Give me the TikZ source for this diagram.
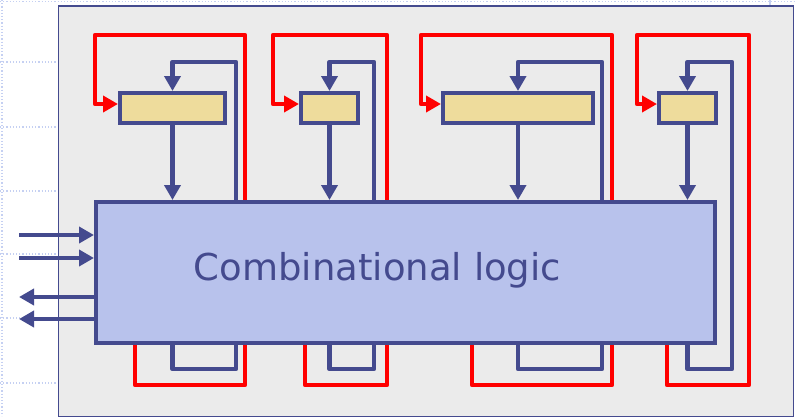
\documentclass[tikz,border=0pt]{standalone}
\usepackage{fontspec}
\setmainfont{DejaVu Sans}
\usetikzlibrary{arrows.meta,backgrounds}
\definecolor{dkb}{HTML}{444A8E}
\definecolor{panelc}{HTML}{EBEBEB}
\definecolor{logicfill}{HTML}{B8C2EC}
\definecolor{regfill}{HTML}{EEDC9C}
\definecolor{gridc}{HTML}{C5D0F2}
\tikzset{
  bl/.style={draw=dkb,line width=4.5pt,line join=round},
  rd/.style={draw=red,line width=4.5pt,line join=round},
  tip/.style={-{Triangle[length=15pt 0,width=16pt 0]}},
  reg/.style={draw=dkb,fill=regfill,line width=4pt,minimum height=30pt,inner sep=0pt},
  gridline/.style={draw=gridc,line width=1.2pt,dotted},
}
\begin{document}
\begin{tikzpicture}[x=1pt,y=-1pt]
\useasboundingbox (0,0) rectangle (797,416);
% main nodes
\node[draw=dkb,fill=logicfill,line width=4pt,minimum width=619pt,minimum height=141pt,inner sep=0pt] (logic) at (405.5,272.5) {};
\node[text=dkb,font=\fontsize{37}{44}\selectfont,anchor=base] (lbl) at (377.5,280) {Combinational logic};
\node[reg,minimum width=105pt] (r1) at (172.5,108) {};
\node[reg,minimum width=57pt] (r2) at (329.5,108) {};
\node[reg,minimum width=150pt] (r3) at (518,108) {};
\node[reg,minimum width=57pt] (r4) at (687.5,108) {};
\begin{pgfonlayer}{background}
  % slide grid remnants
  \draw[gridline] (0,1.5) -- (797,1.5);
  \draw[gridline] (2,0) -- (2,416);
  \foreach \yy in {62,127,191,254,318,383} \draw[gridline] (0,\yy) -- (57,\yy);
  \draw[draw=gridc,line width=1.5pt] (770,0) -- (770,6);
  % panel
  \node[draw=dkb,fill=panelc,line width=1.5pt,minimum width=735pt,minimum height=411pt,inner sep=0pt,anchor=north west] (panel) at (57.5,5) {};
  % blue feedback loops
  \draw[bl,tip] (logic.south -| r1) |- (236,369) |- (r1 |- 0,62) -- (r1.north);
  \draw[bl,tip] (logic.south -| r2) |- (374,369) |- (r2 |- 0,62) -- (r2.north);
  \draw[bl,tip] (logic.south -| r3) |- (602,369) |- (r3 |- 0,62) -- (r3.north);
  \draw[bl,tip] (logic.south -| r4) |- (732,369) |- (r4 |- 0,62) -- (r4.north);
  % red feedback loops
  \draw[rd,tip] (logic.south -| 135,0) |- (245,385) |- (95,35) |- ([yshift=4pt]r1.west);
  \draw[rd,tip] (logic.south -| 305,0) |- (387,385) |- (273,35) |- ([yshift=4pt]r2.west);
  \draw[rd,tip] (logic.south -| 472,0) |- (612,385) |- (421,35) |- ([yshift=4pt]r3.west);
  \draw[rd,tip] (logic.south -| 667,0) |- (749,385) |- (637,35) |- ([yshift=4pt]r4.west);
\end{pgfonlayer}
% register outputs
\draw[bl,tip] (r1.south) -- (r1.south |- logic.north);
\draw[bl,tip] (r2.south) -- (r2.south |- logic.north);
\draw[bl,tip] (r3.south) -- (r3.south |- logic.north);
\draw[bl,tip] (r4.south) -- (r4.south |- logic.north);
% primary inputs / outputs
\coordinate (in1) at (19,235);
\coordinate (in2) at (19,258);
\coordinate (out1) at (19,297);
\coordinate (out2) at (19,319);
\draw[bl,tip] (in1) -- (in1 -| logic.west);
\draw[bl,tip] (in2) -- (in2 -| logic.west);
\draw[bl,tip] (out1 -| logic.west) -- (out1);
\draw[bl,tip] (out2 -| logic.west) -- (out2);
\end{tikzpicture}
\end{document}
